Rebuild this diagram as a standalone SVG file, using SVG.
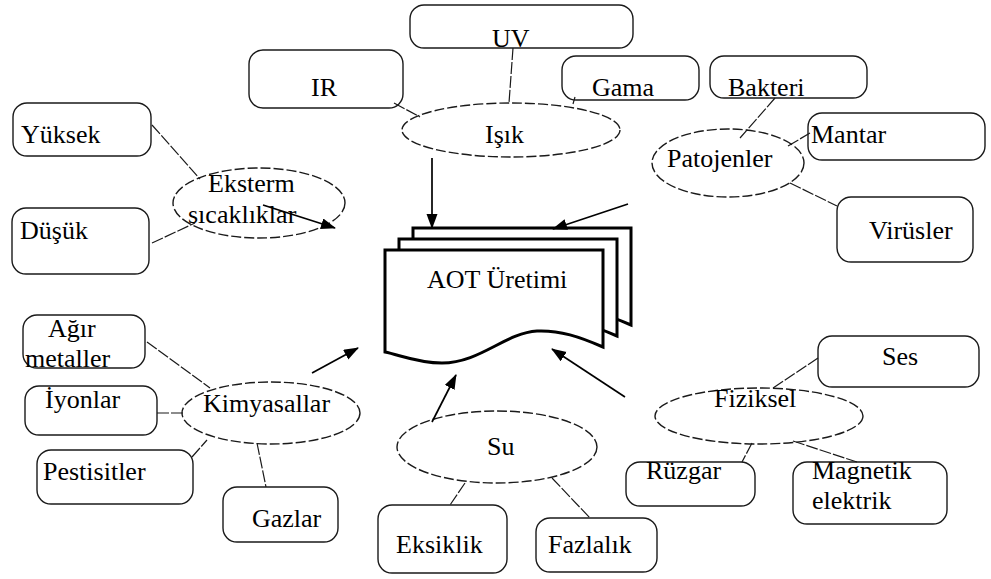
<svg xmlns="http://www.w3.org/2000/svg" width="991" height="579" viewBox="0 0 991 579">
  <style>
    .box { fill: #fff; stroke: #1a1a1a; stroke-width: 1.4; }
    .oval { fill: #fff; stroke: #1a1a1a; stroke-width: 1.4; stroke-dasharray: 10 3; }
    .page { fill: #fff; stroke: #000; stroke-width: 3; stroke-linejoin: miter; }
    .link { stroke: #1a1a1a; stroke-width: 1.2; stroke-dasharray: 12 2; fill: none; }
    .arrow { stroke: #000; stroke-width: 1.7; fill: none; marker-end: url(#head); }
    text { fill: #000; font-family: Liberation Serif, serif; font-size: 26px; }
  </style>
  <defs>
    <marker id="head" markerUnits="userSpaceOnUse" markerWidth="16" markerHeight="12" refX="14" refY="5.5" orient="auto">
      <path d="M0,0 L15,5.5 L0,11 Z" fill="#000"/>
    </marker>
    <path id="sheet" d="M385,250 H603 V347 C580,337 560,330 537,331 C505,333 480,363 442,363 C418,363 400,355 385,352 Z"/>
  </defs>

  <rect width="991" height="579" fill="#fff"/>

  <!-- central stacked document -->
  <g id="aot">
    <use href="#sheet" class="page" transform="translate(28,-22)"/>
    <use href="#sheet" class="page" transform="translate(14,-11)"/>
    <use href="#sheet" class="page"/>
    <text x="427" y="288">AOT Üretimi</text>
  </g>

  <!-- light group -->
  <g id="uv"><rect class="box" x="410" y="5" width="223" height="43" rx="14"/><text x="492" y="47">UV</text></g>
  <g id="ir"><rect class="box" x="249" y="50" width="154" height="58" rx="14"/><text x="311" y="96">IR</text></g>
  <g id="gama"><rect class="box" x="562" y="56" width="137" height="44" rx="14"/><text x="592" y="96">Gama</text></g>
  <g id="isik"><ellipse class="oval" cx="511" cy="130" rx="109" ry="27"/><text x="485" y="143">Işık</text></g>

  <!-- temperature group -->
  <g id="yuksek"><rect class="box" x="13" y="103" width="138" height="53" rx="14"/><text x="21" y="143">Yüksek</text></g>
  <g id="dusuk"><rect class="box" x="12" y="208" width="137" height="66" rx="14"/><text x="20" y="239">Düşük</text></g>
  <g id="sicaklik"><ellipse class="oval" cx="259" cy="203" rx="86" ry="35"/><text x="208" y="192">Eksterm</text><text x="188" y="223">sıcaklıklar</text></g>

  <!-- pathogen group -->
  <g id="bakteri"><rect class="box" x="710" y="56" width="157" height="42" rx="14"/><text x="728" y="96">Bakteri</text></g>
  <g id="mantar"><rect class="box" x="808" y="113" width="177" height="47" rx="14"/><text x="811" y="143">Mantar</text></g>
  <g id="virusler"><rect class="box" x="837" y="197" width="136" height="65" rx="14"/><text x="869" y="239">Virüsler</text></g>
  <g id="patojen"><ellipse class="oval" cx="728" cy="163" rx="76" ry="34"/><text x="667" y="167">Patojenler</text></g>

  <!-- chemical group -->
  <g id="agir"><rect class="box" x="23" y="315" width="122" height="53" rx="14"/><text x="48" y="337">Ağır</text><text x="25" y="367">metaller</text></g>
  <g id="iyon"><rect class="box" x="25" y="386" width="132" height="49" rx="14"/><text x="45" y="408">İyonlar</text></g>
  <g id="pestisit"><rect class="box" x="37" y="450" width="156" height="54" rx="14"/><text x="43" y="480">Pestisitler</text></g>
  <g id="gaz"><rect class="box" x="223" y="487" width="115" height="55" rx="14"/><text x="252" y="527">Gazlar</text></g>
  <g id="kimya"><ellipse class="oval" cx="271" cy="413" rx="89" ry="31"/><text x="203" y="412">Kimyasallar</text></g>

  <!-- water group -->
  <g id="eksik"><rect class="box" x="378" y="505" width="129" height="68" rx="14"/><text x="396" y="553">Eksiklik</text></g>
  <g id="fazla"><rect class="box" x="536" y="518" width="121" height="54" rx="14"/><text x="548" y="553">Fazlalık</text></g>
  <g id="su"><ellipse class="oval" cx="497" cy="447" rx="100" ry="36"/><text x="487" y="455">Su</text></g>

  <!-- physical group -->
  <g id="ses"><rect class="box" x="818" y="336" width="161" height="51" rx="14"/><text x="882" y="365">Ses</text></g>
  <g id="ruzgar"><rect class="box" x="626" y="462" width="129" height="44" rx="14"/><text x="646" y="479">Rüzgar</text></g>
  <g id="magnetik"><rect class="box" x="793" y="462" width="154" height="62" rx="14"/><text x="812" y="479">Magnetik</text><text x="812" y="509">elektrik</text></g>
  <g id="fiziksel"><ellipse class="oval" cx="759" cy="416" rx="104" ry="28"/><text x="714" y="407">Fiziksel</text></g>

  <!-- connectors -->
  <g id="connectors">
    <line class="link" x1="513" y1="48" x2="509" y2="103"/>
    <line class="link" x1="394" y1="103" x2="420" y2="117"/>
    <line class="link" x1="575" y1="97" x2="573" y2="104"/>
    <line class="link" x1="775" y1="98" x2="740" y2="138"/>
    <line class="link" x1="788" y1="146" x2="810" y2="133"/>
    <line class="link" x1="790" y1="183" x2="837" y2="206"/>
    <line class="link" x1="152" y1="125" x2="200" y2="179"/>
    <line class="link" x1="152" y1="243" x2="195" y2="223"/>
    <line class="link" x1="147" y1="342" x2="210" y2="388"/>
    <line class="link" x1="157" y1="413" x2="185" y2="413"/>
    <line class="link" x1="192" y1="457" x2="207" y2="440"/>
    <line class="link" x1="257" y1="443" x2="266" y2="487"/>
    <line class="link" x1="465" y1="483" x2="450" y2="505"/>
    <line class="link" x1="552" y1="478" x2="590" y2="518"/>
    <line class="link" x1="818" y1="358" x2="773" y2="388"/>
    <line class="link" x1="752" y1="443" x2="742" y2="462"/>
    <line class="link" x1="793" y1="441" x2="857" y2="462"/>

    <line class="arrow" x1="432" y1="158" x2="432" y2="228"/>
    <line class="arrow" x1="263" y1="205" x2="335" y2="228"/>
    <line class="arrow" x1="628" y1="204" x2="553" y2="229"/>
    <line class="arrow" x1="312" y1="373" x2="358" y2="348"/>
    <line class="arrow" x1="432" y1="422" x2="456" y2="375"/>
    <line class="arrow" x1="625" y1="397" x2="552" y2="349"/>
  </g>
</svg>
